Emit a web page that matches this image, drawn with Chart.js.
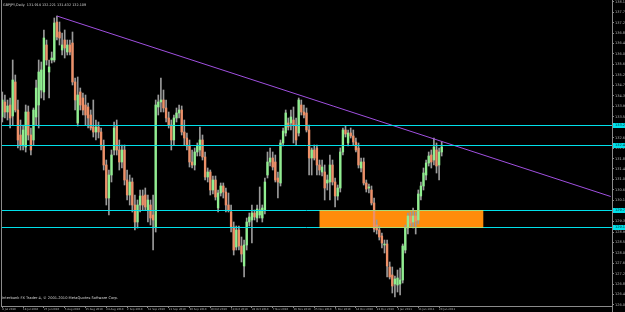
<!DOCTYPE html>
<html><head><meta charset="utf-8">
<script src="https://cdn.jsdelivr.net/npm/chart.js@4/dist/chart.umd.min.js"></script>
<style>html,body{margin:0;padding:0;background:#000;overflow:hidden}canvas{display:block}</style>
</head><body>
<canvas id="c" width="625" height="312"></canvas>
<script>
const symbolTitle = "GBPJPY,Daily  131.914 132.221 131.432 132.109";
const footerText = "Interbank FX Trader 4, \u00A9 2001-2010 MetaQuotes Software Corp.";
const dateLabels = ["8 Jul 2010","18 Jul 2010","27 Jul 2010","5 Aug 2010","15 Aug 2010","24 Aug 2010","2 Sep 2010","12 Sep 2010","21 Sep 2010","30 Sep 2010","10 Oct 2010","19 Oct 2010","28 Oct 2010","7 Nov 2010","16 Nov 2010","25 Nov 2010","5 Dec 2010","14 Dec 2010","23 Dec 2010","3 Jan 2011","11 Jan 2011","20 Jan 2011"];
const opens = [133.52,134.12,133.72,134.00,133.56,134.92,133.80,132.80,132.40,132.32,
133.72,132.80,132.60,133.52,134.00,134.60,134.52,136.40,135.32,135.80,
135.80,137.32,136.92,136.20,136.60,136.12,136.40,136.48,134.92,133.28,
134.52,134.28,134.00,133.92,133.60,133.12,132.92,133.12,132.92,132.36,
131.60,130.28,131.20,132.20,133.16,132.20,131.72,132.20,131.00,130.40,
130.92,130.00,129.32,130.00,130.36,130.40,129.80,130.00,129.60,129.12,
133.92,134.12,134.20,133.88,133.48,133.20,132.60,133.48,133.68,133.80,
132.92,132.68,132.36,131.72,131.60,132.12,132.20,132.60,131.92,131.12,
131.32,130.60,131.00,129.88,130.48,130.76,130.52,130.00,129.72,129.12,
128.32,129.00,128.36,127.56,128.40,129.32,129.40,129.68,129.48,129.60,
129.48,129.80,131.20,131.72,131.88,131.72,131.08,130.88,132.48,132.88,
133.28,133.28,133.40,133.20,132.88,134.00,133.72,133.68,133.00,131.88,
132.20,132.28,131.60,131.32,131.32,130.88,130.92,131.60,130.92,130.36,
130.68,132.12,133.00,132.48,132.88,132.76,132.52,132.28,131.48,131.72,
130.88,130.68,130.60,130.08,129.20,129.00,128.76,128.40,128.44,127.52,
127.20,126.84,126.80,126.84,127.00,128.20,129.08,129.56,129.32,129.56,
129.40,130.36,130.76,131.20,131.68,132.00,131.80,132.20,131.60,132.12];
const highs = [134.52,134.40,134.20,134.28,135.80,135.20,134.20,133.40,133.20,134.00,
133.96,133.08,133.88,135.00,135.80,135.72,137.00,136.60,135.80,136.12,
137.48,137.56,137.32,136.88,137.00,136.60,136.60,136.92,135.08,135.12,
134.68,134.48,134.40,134.08,133.80,134.20,133.40,133.32,133.08,132.60,
131.80,131.40,132.20,133.32,133.40,132.60,132.40,132.40,131.40,131.20,
131.08,130.40,130.20,130.60,130.60,130.68,130.40,130.20,130.40,134.20,
134.40,135.08,134.60,134.20,133.72,133.40,133.60,133.88,134.00,133.96,
133.40,132.88,132.60,132.20,132.28,132.48,133.12,132.80,132.12,131.48,
131.40,131.16,131.16,130.60,130.88,130.88,130.68,130.48,130.00,129.32,
129.16,129.16,128.72,128.60,129.48,129.68,130.00,129.80,130.00,130.72,
130.00,131.08,132.12,132.28,132.12,132.00,131.32,132.60,133.08,133.80,
133.48,133.80,133.92,133.48,134.28,134.20,134.00,133.88,133.20,132.28,
132.40,132.40,131.80,131.80,131.60,131.20,132.00,131.80,131.08,130.80,
132.28,133.08,133.16,133.00,133.08,133.00,132.68,132.48,131.88,131.88,
131.00,130.84,130.76,130.28,129.40,129.16,128.88,128.60,128.60,127.72,
127.52,127.16,127.40,127.48,128.44,129.20,129.68,129.72,129.88,129.72,
130.60,130.92,131.48,131.80,132.12,132.20,132.68,132.48,132.28,132.52];
const lows = [133.32,133.48,133.40,133.08,133.20,133.72,132.28,132.20,132.20,132.12,
132.60,132.00,132.40,133.20,133.08,134.28,134.20,135.60,134.28,135.68,
135.72,136.60,136.40,136.00,135.88,136.00,136.00,134.80,133.80,133.16,
133.80,133.60,133.20,133.08,133.00,132.72,132.60,132.68,132.20,131.40,
130.00,129.60,130.92,132.00,132.00,131.40,131.48,130.80,130.20,130.00,
129.72,129.00,129.08,129.72,129.80,129.80,129.32,129.20,128.20,128.92,
133.60,133.72,133.72,133.32,133.08,132.20,132.40,133.32,133.48,132.80,
132.40,132.20,131.52,131.48,131.40,131.96,131.96,131.80,131.00,130.92,
130.40,130.44,130.20,129.72,130.36,130.28,129.72,129.72,128.92,128.00,
128.20,128.20,127.72,127.12,128.20,129.16,128.48,129.40,129.32,129.48,
129.32,129.64,131.08,131.56,131.40,130.92,130.28,130.76,132.36,132.76,
133.00,133.00,132.48,132.40,132.76,133.60,133.48,132.92,131.20,131.20,
131.80,131.20,131.20,131.16,130.20,130.60,130.20,130.80,129.92,130.20,
130.52,132.00,132.72,132.36,132.68,132.40,132.12,131.48,131.32,130.80,
130.52,130.48,130.00,128.92,128.84,128.60,128.28,128.08,127.12,127.04,
126.48,126.32,126.52,126.40,126.88,128.08,128.84,129.16,129.08,128.84,
129.24,130.20,130.60,131.00,131.56,131.48,131.60,131.28,131.00,131.96];
const closes = [134.20,133.72,133.96,133.48,135.00,133.80,132.60,132.40,133.00,133.72,
132.80,132.20,133.80,134.68,135.32,135.40,136.68,135.80,135.52,135.88,
137.28,136.72,136.68,136.40,136.28,136.40,136.12,134.92,134.20,134.40,
134.00,133.80,133.60,133.48,133.08,132.92,133.12,132.92,132.36,131.60,
130.28,131.20,132.00,133.08,132.20,131.72,132.20,131.00,130.40,130.92,
130.00,129.32,130.00,130.36,130.00,129.92,130.20,129.48,129.40,134.00,
134.12,134.20,133.88,133.48,133.20,132.60,133.48,133.68,133.80,132.92,
132.68,132.36,131.72,131.60,132.12,132.36,132.60,131.92,131.12,131.32,
130.60,131.00,130.32,130.48,130.76,130.52,130.00,129.80,129.12,128.20,
129.00,128.36,128.04,128.40,129.32,129.52,129.68,129.52,129.84,129.80,
129.88,130.92,131.72,131.88,131.52,131.00,130.92,132.48,132.96,133.68,
133.12,133.52,133.20,132.60,134.20,133.72,133.60,133.00,131.88,132.20,
131.88,131.60,131.40,131.52,130.68,131.00,131.60,130.92,130.36,130.68,
132.12,133.00,132.84,132.88,132.76,132.52,132.20,131.60,131.72,130.88,
130.64,130.72,130.08,129.04,129.00,128.72,128.48,128.44,127.56,127.12,
126.76,127.04,127.08,127.00,128.36,129.08,129.56,129.28,129.56,129.36,
130.44,130.76,131.28,131.68,131.96,131.72,132.32,131.56,132.12,132.32];
const priceTicks = [138.13,137.71,137.29,136.87,136.46,136.04,135.62,135.20,134.78,134.36,133.95,133.53,
132.69,132.27,131.85,131.44,131.02,130.60,130.18,129.34,128.92,128.51,128.09,127.67,127.25,126.83,126.42,126.00];
const levels = [133.20, 132.42, 129.78, 129.10];
const levelLabels = ["133.20","132.42","129.78","129.10"];
const trendStart = {bar: 21, price: 137.56};
const trendEnd = {bar: 234, price: 130.34};
const zone = {fromBar: 122, toBar: 185, top: 129.78, bottom: 129.10};
const totalSlots = 235;
const priceMin = 125.96, priceMax = 138.20;

const UP = '#90EE90', DOWN = '#EE9068', WICK = '#9a9a9a', CYAN = '#00E0EA', AXIS = '#8a8a8a', LBL = '#b8b8b8';

const cats = Array.from({length: totalSlots}, (_, i) => i);
const pad = a => a.concat(Array(totalSlots - a.length).fill(null));
const wickData = pad(lows.map((l, i) => [l, highs[i]]));
const bodyData = pad(opens.map((o, i) => [Math.min(o, closes[i]), Math.max(o, closes[i])]));
const bodyColors = pad(opens.map((o, i) => closes[i] >= o ? UP : DOWN));
const trendData = cats.map(i => i === trendStart.bar ? trendStart.price : (i === trendEnd.bar ? trendEnd.price : null));

const mtPlugin = {
  id: 'mt',
  beforeDraw(chart) {
    const c = chart.ctx; c.save(); c.fillStyle = '#000'; c.fillRect(0, 0, chart.width, chart.height); c.restore();
  },
  beforeDatasetsDraw(chart) {
    const x = chart.scales.x, y = chart.scales.y, c = chart.ctx;
    const x1 = x.getPixelForValue(zone.fromBar), x2 = x.getPixelForValue(zone.toBar);
    const y1 = y.getPixelForValue(zone.top), y2 = y.getPixelForValue(zone.bottom);
    c.save(); c.fillStyle = '#FF8C0A'; c.fillRect(x1, y1, x2 - x1, y2 - y1); c.restore();
  },
  afterDatasetsDraw(chart) {
    const x = chart.scales.x, y = chart.scales.y, c = chart.ctx, ca = chart.chartArea;
    c.save(); c.lineWidth = 1;
    levels.forEach(lv => {
      const py = Math.round(y.getPixelForValue(lv)) + 0.5;
      c.strokeStyle = CYAN; c.beginPath(); c.moveTo(ca.left, py); c.lineTo(ca.right, py); c.stroke();
    });
    const x1 = x.getPixelForValue(zone.fromBar), x2 = x.getPixelForValue(zone.toBar);
    [zone.top, zone.bottom].forEach(lv => {
      const py = Math.round(y.getPixelForValue(lv)) + 0.5;
      c.strokeStyle = '#A8DA78'; c.beginPath(); c.moveTo(x1, py); c.lineTo(x2, py); c.stroke();
    });
    c.restore();
  },
  afterDraw(chart) {
    const y = chart.scales.y, c = chart.ctx, ca = chart.chartArea;
    c.save();
    c.strokeStyle = AXIS; c.lineWidth = 1;
    c.beginPath(); c.moveTo(1.5, 0); c.lineTo(1.5, ca.bottom); c.stroke();
    c.beginPath(); c.moveTo(ca.right + 0.5, ca.bottom); c.lineTo(ca.right + 0.5, chart.height); c.stroke();
    c.font = '3.5px "DejaVu Sans"'; c.textBaseline = 'middle';
    levels.forEach((lv, i) => {
      const py = Math.round(y.getPixelForValue(lv)) + 0.5;
      c.fillStyle = CYAN; c.fillRect(ca.right + 1, py - 2.5, chart.width - ca.right, 5);
      c.fillStyle = '#003030'; c.fillText(levelLabels[i], ca.right + 3, py);
    });
    c.fillStyle = '#d8d8d8'; c.textBaseline = 'alphabetic';
    c.font = '3.4px "DejaVu Sans"'; c.fillText(symbolTitle, 3, 6);
    c.font = '3.6px "DejaVu Sans"'; c.fillText(footerText, 2, 299);
    c.restore();
  }
};

new Chart(document.getElementById('c'), {
  type: 'bar',
  data: {
    labels: cats,
    datasets: [
      {type: 'line', data: trendData, borderColor: '#A050E0', borderWidth: 1, pointRadius: 0, spanGaps: true, order: 0},
      {data: bodyData, backgroundColor: bodyColors, barThickness: 1.7, minBarLength: 1, grouped: false, order: 1},
      {data: wickData, backgroundColor: WICK, barThickness: 1, grouped: false, order: 2}
    ]
  },
  options: {
    responsive: false, animation: false, devicePixelRatio: 1,
    layout: {padding: {left: 1, top: 0, right: 0, bottom: 0}},
    plugins: {legend: {display: false}, tooltip: {enabled: false}},
    scales: {
      x: {
        type: 'category', offset: true,
        grid: {offset: false, drawOnChartArea: false, drawTicks: true, tickLength: 2,
          color: ctx => (ctx.index % 8 === 0 && ctx.index / 8 < dateLabels.length) ? AXIS : 'rgba(0,0,0,0)'},
        border: {display: true, color: AXIS, width: 1},
        ticks: {autoSkip: false, maxRotation: 0, minRotation: 0, align: 'start', padding: 0,
          color: LBL, font: {size: 2.7, family: 'DejaVu Sans'},
          callback: (v, i) => (i % 8 === 0 && dateLabels[i / 8]) ? dateLabels[i / 8] : ''},
        afterFit: s => { s.height = 6; s.paddingLeft = 0; s.paddingRight = 0; }
      },
      y: {
        position: 'right', min: priceMin, max: priceMax,
        grid: {drawOnChartArea: false, drawTicks: true, tickLength: 2, color: AXIS},
        border: {display: true, color: AXIS, width: 1},
        ticks: {autoSkip: false, padding: 1, color: LBL, font: {size: 3.5, family: 'DejaVu Sans'},
          callback: v => v.toFixed(2)},
        afterBuildTicks: s => { s.ticks = priceTicks.map(v => ({value: v})); },
        afterFit: s => { s.width = 13; s.paddingTop = 0; s.paddingBottom = 0; }
      }
    }
  },
  plugins: [mtPlugin]
});
</script>
</body></html>
